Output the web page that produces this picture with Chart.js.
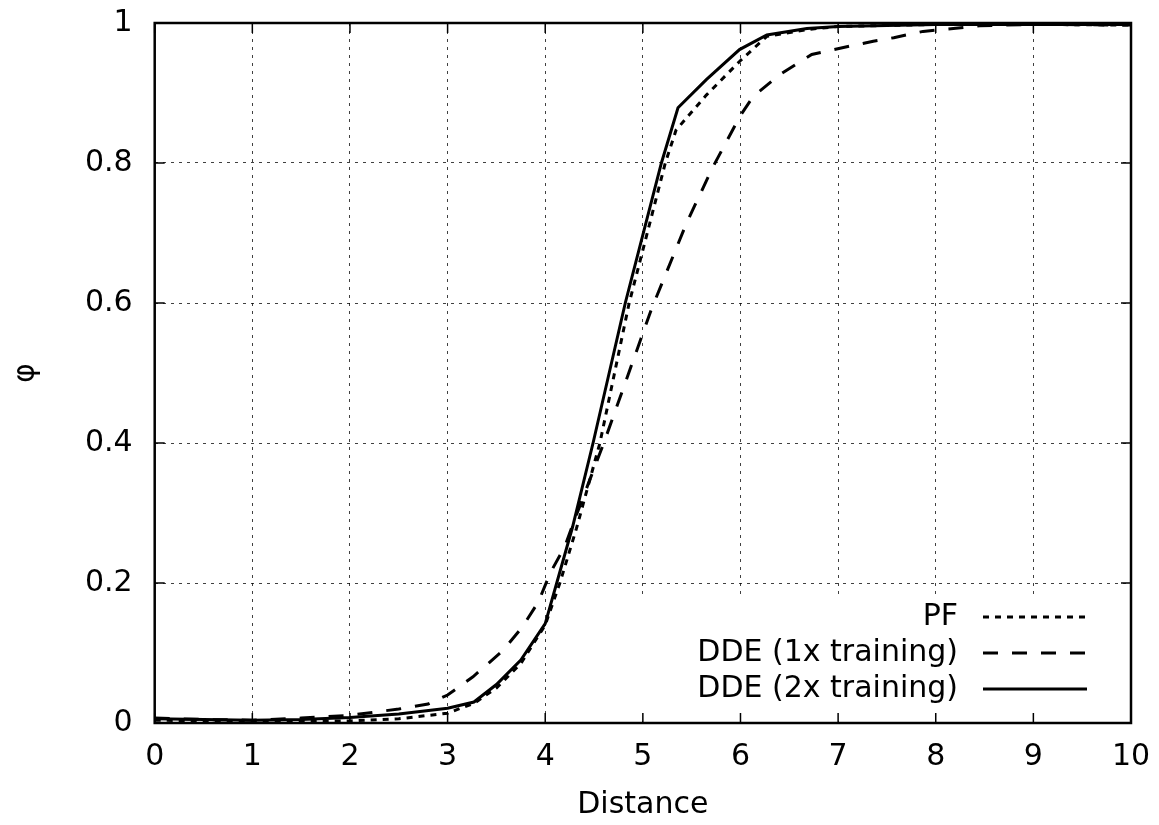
<!DOCTYPE html>
<html>
<head>
<meta charset="utf-8">
<script src="https://cdn.jsdelivr.net/npm/chart.js@4.4.1/dist/chart.umd.min.js"></script>
<style>
  html, body { margin: 0; padding: 0; background: #fff; }
  #wrap { width: 1159px; height: 825px; position: relative; }
</style>
</head>
<body>
<div id="wrap"><canvas id="grafica"></canvas></div>
<script>
// values
const pfX = [0, 0.5, 1, 1.5, 2, 2.5, 3, 3.15, 3.27, 3.5, 3.75, 4.0, 4.15, 4.32, 4.56, 4.86, 5.23, 5.34, 5.65, 5.99, 6.27, 6.7, 7, 8, 9, 10];
const pfY = [0.004, 0.003, 0.002, 0.002, 0.003, 0.006, 0.014, 0.022, 0.028, 0.05, 0.085, 0.14, 0.2, 0.278, 0.4, 0.6, 0.8, 0.847, 0.897, 0.945, 0.981, 0.991, 0.995, 0.998, 0.998, 0.997];

const dde1X = [0, 0.5, 1, 1.5, 2, 2.5, 2.8, 3.0, 3.26, 3.57, 3.77, 3.93, 4.05, 4.2, 4.3, 4.6, 4.83, 5.09, 5.45, 5.72, 6.0, 6.13, 6.4, 6.73, 7.02, 7.36, 7.57, 7.87, 8.18, 8.45, 9, 10];
const dde1Y = [0.007, 0.005, 0.004, 0.007, 0.011, 0.02, 0.027, 0.04, 0.066, 0.104, 0.138, 0.173, 0.214, 0.252, 0.29, 0.4, 0.49, 0.592, 0.715, 0.795, 0.868, 0.895, 0.926, 0.955, 0.964, 0.974, 0.979, 0.988, 0.992, 0.996, 0.998, 0.997];

const dde2X = [0, 0.5, 1, 1.5, 2, 2.5, 3, 3.27, 3.5, 3.75, 4.0, 4.28, 4.49, 4.82, 5.19, 5.36, 5.65, 5.99, 6.27, 6.68, 7, 8, 9, 10];
const dde2Y = [0.006, 0.005, 0.004, 0.005, 0.008, 0.013, 0.021, 0.03, 0.055, 0.09, 0.142, 0.28, 0.4, 0.6, 0.8, 0.879, 0.919, 0.962, 0.983, 0.992, 0.995, 0.998, 0.998, 0.998];

const seriesNames = ["PF", "DDE (1x training)", "DDE (2x training)"];
const xTitle = "Distance";
const yTitle = "φ";

const fuente = "'DejaVu Sans', Verdana, sans-serif";
const tam = 30;

function puntos(xs, ys) {
  return xs.map((v, i) => ({ x: v, y: ys[i] }));
}

// gnuplot style frame, inward ticks and opaque key
const marco = {
  id: 'marco',
  beforeDatasetsDraw(chart) {
    const { ctx, chartArea: a } = chart;
    ctx.save();
    ctx.font = tam + "px " + fuente;
    const textRight = a.right - 173;
    const anchoMax = Math.max(...chart.data.datasets.map(d => ctx.measureText(d.label).width));
    const boxLeft = textRight - anchoMax - 65;
    ctx.fillStyle = '#fff';
    ctx.fillRect(boxLeft, a.bottom - 126, a.right - boxLeft, 124);
    ctx.textAlign = 'right';
    ctx.textBaseline = 'middle';
    chart.data.datasets.forEach((d, i) => {
      const yy = a.bottom - 106 + i * 36;
      ctx.fillStyle = '#000';
      ctx.fillText(d.label, textRight, yy);
      ctx.beginPath();
      ctx.strokeStyle = d.borderColor;
      ctx.lineWidth = d.borderWidth;
      ctx.setLineDash(d.borderDash || []);
      ctx.moveTo(a.right - 148, yy);
      ctx.lineTo(a.right - 44, yy);
      ctx.stroke();
    });
    ctx.restore();
  },
  afterDatasetsDraw(chart) {
    const { ctx, chartArea: a, scales: { x, y } } = chart;
    ctx.save();
    ctx.strokeStyle = '#000';
    ctx.setLineDash([]);
    ctx.lineWidth = 1.5;
    ctx.beginPath();
    x.ticks.forEach(t => {
      const px = x.getPixelForValue(t.value);
      ctx.moveTo(px, a.bottom); ctx.lineTo(px, a.bottom - 10);
      ctx.moveTo(px, a.top); ctx.lineTo(px, a.top + 10);
    });
    y.ticks.forEach(t => {
      const py = y.getPixelForValue(t.value);
      ctx.moveTo(a.left, py); ctx.lineTo(a.left + 10, py);
      ctx.moveTo(a.right, py); ctx.lineTo(a.right - 10, py);
    });
    ctx.stroke();
    ctx.lineWidth = 2.5;
    ctx.strokeRect(a.left, a.top, a.right - a.left, a.bottom - a.top);
    ctx.restore();
  }
};

let miCanvas = document.getElementById("grafica").getContext("2d");

var chart = new Chart(miCanvas, {
  type: "line",
  data: {
    datasets: [
      {
        label: seriesNames[0],
        data: puntos(pfX, pfY),
        borderColor: "#000",
        borderWidth: 3,
        borderDash: [6, 6],
        pointRadius: 0,
        tension: 0,
        fill: false
      },
      {
        label: seriesNames[1],
        data: puntos(dde1X, dde1Y),
        borderColor: "#000",
        borderWidth: 3,
        borderDash: [15, 14],
        pointRadius: 0,
        tension: 0,
        fill: false
      },
      {
        label: seriesNames[2],
        data: puntos(dde2X, dde2Y),
        borderColor: "#000",
        borderWidth: 3,
        pointRadius: 0,
        tension: 0,
        fill: false
      }
    ]
  },
  options: {
    responsive: true,
    maintainAspectRatio: false,
    animation: false,
    layout: { padding: { left: 8, top: 23, right: 28, bottom: 2 } },
    plugins: {
      legend: { display: false },
      tooltip: { enabled: false }
    },
    scales: {
      x: {
        type: "linear",
        min: 0,
        max: 10,
        ticks: { stepSize: 1, color: "#000", padding: 0, font: { family: fuente, size: tam } },
        grid: { color: "rgba(0,0,0,0.75)", lineWidth: 1, drawTicks: true, tickLength: 16, tickColor: "rgba(0,0,0,0)" },
        border: { display: false, dash: [3, 5] },
        title: { display: true, text: xTitle, color: "#000", padding: { top: 12, bottom: 0 }, font: { family: fuente, size: tam } }
      },
      y: {
        min: 0,
        max: 1,
        ticks: {
          stepSize: 0.2, color: "#000", padding: 0, font: { family: fuente, size: tam },
          callback: v => String(Number(v.toFixed(2)))
        },
        grid: { color: "rgba(0,0,0,0.75)", lineWidth: 1, drawTicks: true, tickLength: 22, tickColor: "rgba(0,0,0,0)" },
        border: { display: false, dash: [3, 5] },
        title: { display: true, text: yTitle, color: "#000", padding: { top: 0, bottom: 41 }, font: { family: fuente, size: tam } }
      }
    }
  },
  plugins: [marco]
});
</script>
</body>
</html>
